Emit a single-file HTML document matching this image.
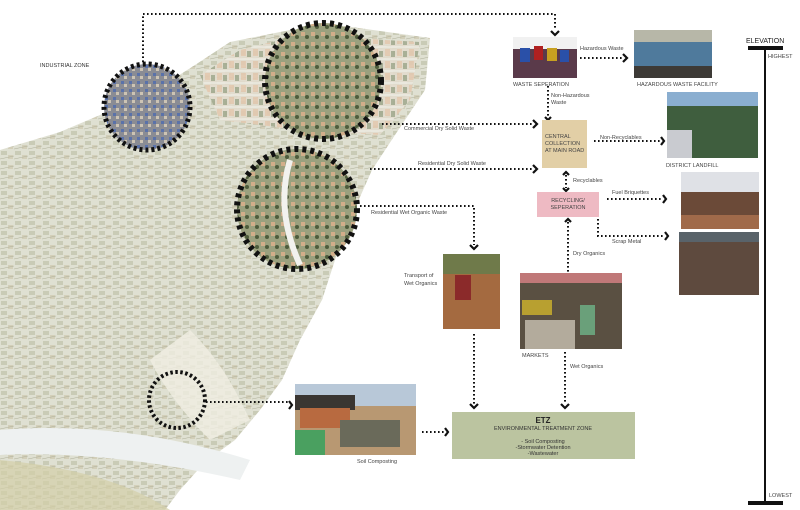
<!DOCTYPE html>
<html><head><meta charset="utf-8">
<style>
html,body{margin:0;padding:0;background:#fff;}
svg{display:block;font-family:"Liberation Sans",Arial,sans-serif;}
</style></head>
<body>
<svg width="800" height="510" viewBox="0 0 800 510" xmlns="http://www.w3.org/2000/svg">
<defs>
<pattern id="tex" width="14" height="10" patternUnits="userSpaceOnUse">
<rect width="14" height="10" fill="#dfe0d2"/>
<rect x="1" y="1" width="6" height="4" fill="#c9cbb6"/>
<rect x="8" y="5" width="5" height="4" fill="#d3cfb9"/>
<path d="M0 9 L14 6" stroke="#aeb09a" stroke-width="0.6"/>
</pattern>
<pattern id="city" width="12" height="12" patternUnits="userSpaceOnUse">
<rect width="12" height="12" fill="#e2dccd"/>
<rect x="1" y="1" width="5" height="7" fill="#e3c9b0"/>
<rect x="7" y="3" width="4" height="6" fill="#a3ab90"/>
<path d="M0 11 L12 11" stroke="#f5f5f1" stroke-width="1"/>
</pattern>
<pattern id="green" width="10" height="10" patternUnits="userSpaceOnUse">
<rect width="10" height="10" fill="#9aa07e"/>
<rect x="1" y="2" width="4" height="4" fill="#d2ae8a"/>
<circle cx="7" cy="7" r="2" fill="#4e5c3c"/>
</pattern>
<pattern id="ind" width="8" height="8" patternUnits="userSpaceOnUse">
<rect width="8" height="8" fill="#8a8c94"/>
<rect x="1" y="1" width="3" height="3" fill="#5a72aa"/>
<rect x="4" y="4" width="3" height="3" fill="#cdc4b4"/>
</pattern>
</defs>

<!-- hillside -->
<polygon points="195,65 230,42 290,30 330,24 430,38 425,90 395,135 372,170 352,215 335,260 322,300 300,340 282,380 260,410 235,440 205,462 180,490 165,510 0,510 0,150 60,132 100,115 140,100" fill="url(#tex)"/>
<polygon points="200,75 240,50 300,35 420,42 410,100 380,135 300,130 220,120" fill="url(#city)" opacity="0.9"/>
<path d="M190 330 Q220 360 240 400 L250 420 L210 440 Q170 400 150 360Z" fill="#f0eee2" opacity="0.8"/>
<path d="M0 430 Q120 420 250 460 L240 480 Q110 450 0 455Z" fill="#eef1f1"/>
<path d="M0 460 Q110 470 170 510 L0 510Z" fill="#d3cea8" opacity="0.7"/>

<!-- circles -->
<circle cx="147" cy="107" r="43" fill="url(#ind)"/>
<circle cx="147" cy="107" r="43" fill="none" stroke="#111" stroke-width="5" stroke-dasharray="3,3"/>
<circle cx="323" cy="81" r="58" fill="url(#green)"/>
<circle cx="323" cy="81" r="58" fill="none" stroke="#111" stroke-width="6" stroke-dasharray="4,4"/>
<circle cx="297" cy="209" r="60" fill="url(#green)"/>
<path d="M290 160 Q275 210 300 265" stroke="#f2f2ee" stroke-width="6" fill="none"/>
<circle cx="297" cy="209" r="60" fill="none" stroke="#111" stroke-width="6" stroke-dasharray="4,4"/>
<circle cx="177" cy="400" r="28" fill="none" stroke="#111" stroke-width="4" stroke-dasharray="2.5,2.5"/>

<text x="40" y="67" font-size="5.5" fill="#333">INDUSTRIAL ZONE</text>

<!-- dotted connectors -->
<g stroke="#111" stroke-width="2" stroke-dasharray="1.6,2.4" fill="none">
<path d="M143 62 V14 H555 V30"/>
<path d="M580 58 H622"/>
<path d="M548 86 V116"/>
<path d="M382 124 H532"/>
<path d="M370 169 H532"/>
<path d="M594 141 H660"/>
<path d="M566 175 V188"/>
<path d="M607 199 H662"/>
<path d="M598 219 V236 H664"/>
<path d="M568 222 V272"/>
<path d="M360 206 H474 V245"/>
<path d="M474 334 V404"/>
<path d="M565 352 V404"/>
<path d="M206 402 H288"/>
<path d="M422 432 H444"/>
</g>
<!-- arrowheads -->
<g stroke="#111" stroke-width="2.2" fill="none">
<path d="M551 31 L555 35 L559 31"/>
<path d="M623 54 L627 58 L623 62"/>
<path d="M545 117 L548 120 L551 117"/>
<path d="M533 120 L537 124 L533 128"/>
<path d="M533 165 L537 169 L533 173"/>
<path d="M661 137 L664 141 L661 145"/>
<path d="M563 175 L566 172 L569 175"/>
<path d="M563 188 L566 191 L569 188"/>
<path d="M663 195 L666 199 L663 203"/>
<path d="M665 232 L668 236 L665 240"/>
<path d="M565 222 L568 219 L571 222"/>
<path d="M470 245 L474 249 L478 245"/>
<path d="M470 404 L474 408 L478 404"/>
<path d="M561 404 L565 408 L569 404"/>
<path d="M289 401 L292 405 L289 409"/>
<path d="M445 428 L448 432 L445 436"/>
</g>

<!-- photos -->
<rect x="513" y="37" width="64" height="41" fill="#5a3a4a"/>
<rect x="513" y="37" width="64" height="12" fill="#f1f1f1"/>
<rect x="520" y="48" width="10" height="14" fill="#2a50a8"/><rect x="534" y="46" width="9" height="14" fill="#b02020"/><rect x="547" y="48" width="10" height="13" fill="#c8a020"/><rect x="560" y="50" width="9" height="12" fill="#2a50a8"/>
<rect x="634" y="30" width="78" height="48" fill="#4f7a9c"/>
<rect x="634" y="30" width="78" height="12" fill="#b7b7a8"/>
<rect x="634" y="66" width="78" height="12" fill="#3d3a36"/>
<rect x="667" y="92" width="91" height="66" fill="#3f5e3e"/>
<rect x="667" y="92" width="91" height="14" fill="#8aaed0"/>
<rect x="667" y="130" width="25" height="28" fill="#c9cbd0"/>
<rect x="681" y="172" width="78" height="57" fill="#6b4a38"/>
<rect x="681" y="172" width="78" height="20" fill="#dfe1e6"/>
<rect x="681" y="215" width="78" height="14" fill="#a06a4a"/>
<rect x="679" y="232" width="80" height="63" fill="#5e4a3e"/>
<rect x="679" y="232" width="80" height="10" fill="#59636a"/>
<rect x="443" y="254" width="57" height="75" fill="#a46a40"/>
<rect x="443" y="254" width="57" height="20" fill="#6f7a4a"/>
<rect x="455" y="275" width="16" height="25" fill="#8b2a2a"/>
<rect x="520" y="273" width="102" height="76" fill="#5a5042"/>
<rect x="520" y="273" width="102" height="10" fill="#c07878"/>
<rect x="522" y="300" width="30" height="15" fill="#b8a030"/>
<rect x="525" y="320" width="50" height="29" fill="#b3ab9c"/>
<rect x="580" y="305" width="15" height="30" fill="#6aa07a"/>
<rect x="295" y="384" width="121" height="71" fill="#b89872"/>
<rect x="295" y="384" width="121" height="22" fill="#b8c8d8"/>
<rect x="295" y="395" width="60" height="15" fill="#3a3632"/>
<rect x="300" y="408" width="50" height="20" fill="#b86a40"/>
<rect x="340" y="420" width="60" height="27" fill="#6a6a5a"/>
<rect x="295" y="430" width="30" height="25" fill="#4aa060"/>

<!-- boxes -->
<rect x="542" y="120" width="45" height="48" fill="#e2cfa6"/>
<text font-size="5.5" fill="#444"><tspan x="545" y="138">CENTRAL</tspan><tspan x="545" y="145">COLLECTION</tspan><tspan x="545" y="152">AT MAIN ROAD</tspan></text>
<rect x="537" y="192" width="62" height="25" fill="#eebac3"/>
<text font-size="5.5" fill="#444" text-anchor="middle"><tspan x="568" y="202">RECYCLING/</tspan><tspan x="568" y="209">SEPERATION</tspan></text>
<rect x="452" y="412" width="183" height="47" fill="#bbc4a0"/>
<text x="543" y="423" font-size="8" font-weight="bold" fill="#222" text-anchor="middle">ETZ</text>
<text font-size="5.5" fill="#333" text-anchor="middle"><tspan x="543" y="430">ENVIRONMENTAL TREATMENT ZONE</tspan><tspan x="543" y="443">- Soil Composting</tspan><tspan x="543" y="449">-Stormwater Detention</tspan><tspan x="543" y="455">-Wastewater</tspan></text>

<!-- labels -->
<g font-size="5.5" fill="#444">
<text x="513" y="86">WASTE SEPERATION</text>
<text x="637" y="86">HAZARDOUS WASTE FACILITY</text>
<text x="580" y="50">Hazardous Waste</text>
<text x="551" y="97">Non-Hazardous</text>
<text x="551" y="104">Waste</text>
<text x="404" y="130">Commercial Dry Solid Waste</text>
<text x="418" y="165">Residential Dry Solid Waste</text>
<text x="600" y="139">Non-Recyclables</text>
<text x="666" y="167">DISTRICT LANDFILL</text>
<text x="573" y="182">Recyclables</text>
<text x="612" y="194">Fuel Briquettes</text>
<text x="612" y="243">Scrap Metal</text>
<text x="573" y="255">Dry Organics</text>
<text x="371" y="214">Residential Wet  Organic Waste</text>
<text x="404" y="277">Transport of</text>
<text x="404" y="285">Wet Organics</text>
<text x="522" y="357">MARKETS</text>
<text x="570" y="368">Wet Organics</text>
<text x="357" y="463">Soil Composting</text>
<text x="768" y="58">HIGHEST</text>
<text x="769" y="497">LOWEST</text>
</g>
<text x="746" y="43" font-size="7" fill="#222">ELEVATION</text>
<rect x="748" y="46" width="35" height="4" fill="#111"/>
<rect x="764" y="50" width="2" height="453" fill="#111"/>
<rect x="748" y="501" width="35" height="4" fill="#111"/>
</svg>
</body></html>
